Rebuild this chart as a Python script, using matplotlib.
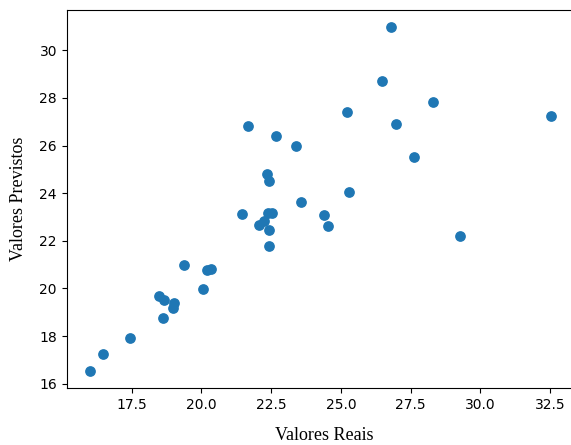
import matplotlib
matplotlib.use("Agg")
import numpy as np
from matplotlib import pyplot as plt

# valores
reais = [21.66, 22.66, 23.39, 22.36, 22.43, 23.56,
         26.79, 26.46, 28.31, 25.20, 26.98, 32.54, 27.63, 25.29,
         21.44, 22.37, 22.52, 22.07, 22.25, 22.43, 22.43,
         19.37, 20.19, 20.33, 20.07, 18.47, 18.66, 19.01, 18.99,
         18.61, 17.43, 16.46, 15.99, 24.39, 24.54, 29.28]
previstos = [26.82, 26.40, 26.00, 24.80, 24.52, 23.62,
             30.97, 28.70, 27.85, 27.43, 26.92, 27.25, 25.54, 24.07,
             23.14, 23.17, 23.17, 22.68, 22.82, 22.44, 21.80,
             21.00, 20.77, 20.80, 19.97, 19.69, 19.50, 19.37, 19.16,
             18.77, 17.91, 17.23, 16.54, 23.07, 22.64, 22.20]

fig = plt.figure(figsize=(5.71, 4.45), dpi=100)
# o grafico original esta cortado a direita, por isso o eixo passa da borda
ax = fig.add_axes([0.1168, 0.128, 0.9005, 0.8494])
ax.scatter(reais, previstos, s=45, color='#1f77b4')
ax.set_xlim(15.17, 33.6)

ax.set_xlabel('Valores Reais', family='Liberation Serif', fontsize=13, labelpad=11)
ax.set_ylabel('Valores Previstos', family='Liberation Serif', fontsize=13, labelpad=8.5)
ax.set_yticks([16, 18, 20, 22, 24, 26, 28, 30])

fig.savefig('out.png', dpi=100)
